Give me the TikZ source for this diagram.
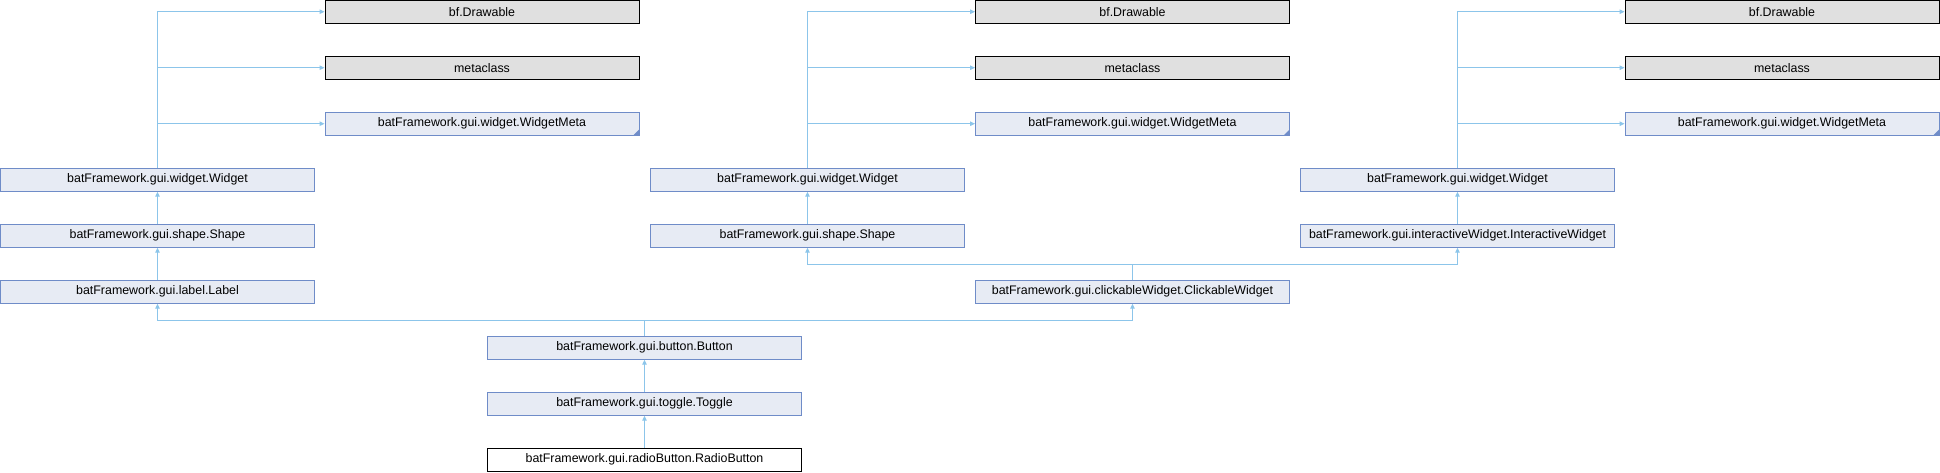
\documentclass[tikz,border=0pt]{standalone}
\usepackage{fontspec}
\setmainfont{Liberation Sans}
\usetikzlibrary{arrows.meta}
\definecolor{nodefill}{HTML}{E7EBF4}
\definecolor{nodeline}{HTML}{6F8CC8}
\definecolor{greyfill}{HTML}{E0E0E0}
\definecolor{edgecol}{HTML}{8CC5EA}
\tikzset{
  base/.style={rectangle, inner sep=0pt, minimum height=23pt, font=\fontsize{12.4}{14}\selectfont, line width=1pt},
  cls/.style={base, draw=nodeline, fill=nodefill, minimum width=314pt},
  ext/.style={base, draw=black, fill=greyfill, minimum width=314pt},
  cur/.style={base, draw=black, fill=white, minimum width=314pt},
  edge/.style={draw=edgecol, line width=1pt, -{Triangle[length=5pt,width=4.5pt]}},
}
\begin{document}
\begin{tikzpicture}[x=1pt,y=-1pt]
\useasboundingbox (0,0) rectangle (1940,472);
% left column
\node[ext] (LD) at (482,11.7) {bf.Drawable};
\node[ext] (LM) at (482,67.7) {metaclass};
\node[cls] (LWM) at (482,123.7) {batFramework.gui.widget.WidgetMeta};
\node[cls] (LW) at (157.5,179.7) {batFramework.gui.widget.Widget};
\node[cls] (LS) at (157.5,235.7) {batFramework.gui.shape.Shape};
\node[cls] (LL) at (157.5,291.7) {batFramework.gui.label.Label};
% middle column
\node[ext] (MD) at (1132.5,11.7) {bf.Drawable};
\node[ext] (MM) at (1132.5,67.7) {metaclass};
\node[cls] (MWM) at (1132.5,123.7) {batFramework.gui.widget.WidgetMeta};
\node[cls] (MW) at (807.5,179.7) {batFramework.gui.widget.Widget};
\node[cls] (MS) at (807.5,235.7) {batFramework.gui.shape.Shape};
\node[cls] (CW) at (1132.5,291.7) {batFramework.gui.clickableWidget.ClickableWidget};
% right column
\node[ext] (RD) at (1782,11.7) {bf.Drawable};
\node[ext] (RM) at (1782,67.7) {metaclass};
\node[cls] (RWM) at (1782,123.7) {batFramework.gui.widget.WidgetMeta};
\node[cls] (RW) at (1457.5,179.7) {batFramework.gui.widget.Widget};
\node[cls] (RI) at (1457.5,235.7) {batFramework.gui.interactiveWidget.InteractiveWidget};
% bottom chain
\node[cls] (B) at (644.5,347.7) {batFramework.gui.button.Button};
\node[cls] (T) at (644.5,403.7) {batFramework.gui.toggle.Toggle};
\node[cur] (R) at (644.5,459.7) {batFramework.gui.radioButton.RadioButton};
% truncated markers
\foreach \n in {LWM,MWM,RWM}{
  \fill[nodeline] ([xshift=-6pt,yshift=0.5pt]\n.south east) -- ([xshift=-0.5pt,yshift=0.5pt]\n.south east) -- ([xshift=-0.5pt,yshift=6pt]\n.south east) -- cycle;
}
% junctions
\coordinate (j1) at (644.5,320.3);
\coordinate (j2) at (1132.5,264.3);
% edges
\foreach \c in {L,M,R}{
  \draw[edge] (\c W.north) |- (\c D.west);
  \draw[edge] (\c W.north) |- (\c M.west);
  \draw[edge] (\c W.north) |- (\c WM.west);
}
\draw[edge] (LS.north) -- (LW.south);
\draw[edge] (LL.north) -- (LS.south);
\draw[edge] (MS.north) -- (MW.south);
\draw[edge] (RI.north) -- (RW.south);
\draw[edge] (CW.north) -- (j2) -| (MS.south);
\draw[edge] (CW.north) -- (j2) -| (RI.south);
\draw[edge] (B.north) -- (j1) -| (LL.south);
\draw[edge] (B.north) -- (j1) -| (CW.south);
\draw[edge] (T.north) -- (B.south);
\draw[edge] (R.north) -- (T.south);
\end{tikzpicture}
\end{document}
